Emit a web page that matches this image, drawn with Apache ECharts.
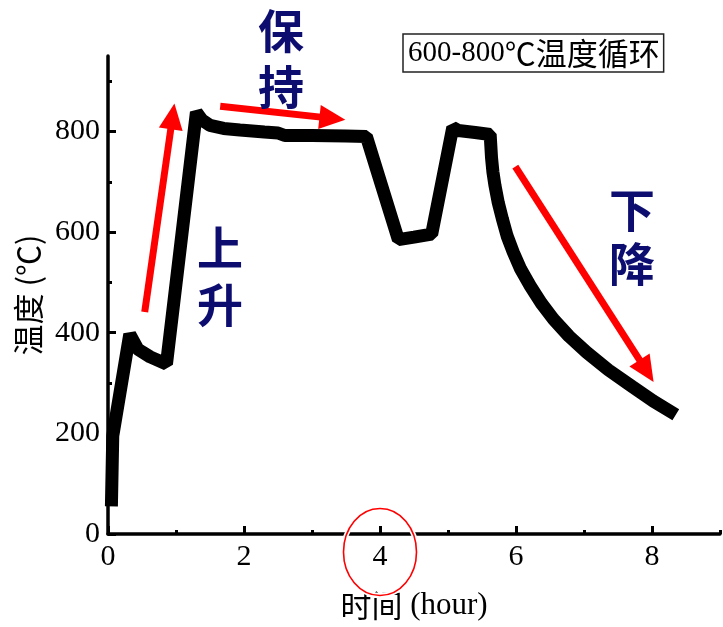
<!DOCTYPE html>
<html>
<head>
<meta charset="utf-8">
<script src="https://cdn.jsdelivr.net/npm/echarts@6/dist/echarts.min.js"></script>
<style>
  html, body { margin: 0; padding: 0; background: #fff; }
  #chart { width: 723px; height: 627px; }
</style>
</head>
<body>
<div id="chart"></div>
<script>
// Furnace temperature profile for one 600-800 °C cycle
const hours = [0.05, 0.07, 0.32, 0.44, 0.62, 0.86, 1.30, 1.38, 1.50, 1.70, 1.94, 2.30, 2.50, 2.60, 3.00, 3.50, 3.80,
               4.27, 4.50, 4.76, 5.07, 5.15, 5.40, 5.62, 5.64, 5.66, 5.69, 5.74, 5.80, 5.87, 5.96, 6.07, 6.21,
               6.37, 6.55, 6.78, 7.04, 7.36, 7.71, 8.02, 8.35];
const temps = [55, 195, 397, 367, 352, 338, 838, 823, 812, 806, 803, 799, 797, 792, 792, 791, 790,
               585, 590, 596, 808, 802, 798, 794, 748, 720, 693, 658, 626, 592, 560, 526, 493,
               459, 427, 393, 361, 326, 293, 264, 237];

const majorX = [0, 2, 4, 6, 8];
const minorX = [1, 3, 5, 7, 9];
const majorY = [0, 200, 400, 600, 800];
const minorY = [100, 300, 500, 700, 900];

// phase arrows: rise, hold, cool-down
const arrowFrom = [[0.54, 441], [1.65, 850], [5.99, 730]];
const arrowTo   = [[0.95, 830], [3.30, 826], [7.92, 324]];

const legendLabel = '600-800℃温度循环';
const serif = '"Liberation Serif", "Times New Roman", serif';
const cjk = '"Noto Sans CJK SC", sans-serif';
const navy = '#0d0d70';

const chart = echarts.init(document.getElementById('chart'), null, { renderer: 'canvas' });

const gridBox = { left: 108, right: 3, top: 56, bottom: 93 };
const axisLine = { show: true, lineStyle: { color: '#000', width: 3.5 } };

chart.setOption({
  animation: false,
  backgroundColor: '#fff',
  grid: [
    Object.assign({ containLabel: false }, gridBox),
    Object.assign({ containLabel: false }, gridBox)
  ],
  legend: {
    data: [legendLabel],
    left: 403, top: 34,
    icon: 'none',
    itemWidth: 0, itemHeight: 0,
    padding: [4, 4, 3, 0],
    borderColor: '#222', borderWidth: 1.5,
    selectedMode: false,
    formatter: () => '{n|600-800}{c|℃温度循环}',
    textStyle: {
      rich: {
        n: { fontFamily: serif, fontSize: 29, color: '#000', lineHeight: 34 },
        c: { fontFamily: cjk, fontSize: 31, color: '#000', lineHeight: 34 }
      }
    }
  },
  xAxis: [
    {
      type: 'value', gridIndex: 0, min: 0, max: 9, interval: 1,
      axisLine,
      axisTick: { show: true, inside: true, length: 8, customValues: majorX, lineStyle: { width: 3, color: '#000' } },
      axisLabel: { customValues: majorX, fontFamily: serif, fontSize: 30, color: '#000', margin: 8 },
      splitLine: { show: false },
      name: '{c|时间}{n| (hour)}', nameLocation: 'middle', nameGap: 56,
      nameTextStyle: {
        rich: {
          c: { fontFamily: cjk, fontSize: 31, color: '#000' },
          n: { fontFamily: serif, fontSize: 31, color: '#000' }
        }
      }
    },
    {
      type: 'value', gridIndex: 1, min: 0, max: 9, interval: 1,
      axisLine: { show: false },
      axisTick: { show: true, inside: true, length: 4, customValues: minorX, lineStyle: { width: 3, color: '#000' } },
      axisLabel: { show: false },
      splitLine: { show: false }
    }
  ],
  yAxis: [
    {
      type: 'value', gridIndex: 0, min: 0, max: 950, interval: 50,
      axisLine,
      axisTick: { show: true, inside: true, length: 8, customValues: majorY, lineStyle: { width: 3, color: '#000' } },
      axisLabel: { customValues: majorY, fontFamily: serif, fontSize: 30, color: '#000', margin: 8 },
      splitLine: { show: false },
      name: '温度 (℃)', nameLocation: 'middle', nameGap: 64,
      nameTextStyle: { fontFamily: cjk, fontSize: 31, color: '#000' }
    },
    {
      type: 'value', gridIndex: 1, min: 0, max: 950, interval: 50,
      axisLine: { show: false },
      axisTick: { show: true, inside: true, length: 4, customValues: minorY, lineStyle: { width: 3, color: '#000' } },
      axisLabel: { show: false },
      splitLine: { show: false }
    }
  ],
  series: [
    {
      name: legendLabel,
      type: 'line',
      xAxisIndex: 0, yAxisIndex: 0,
      data: hours.map((h, i) => [h, temps[i]]),
      showSymbol: false, symbol: 'none',
      lineStyle: { color: '#000', width: 13, cap: 'butt', join: 'bevel' },
      itemStyle: { color: '#000' },
      z: 3,
      markLine: {
        silent: true,
        symbol: ['none', 'triangle'],
        symbolSize: [24, 26],
        label: { show: false },
        lineStyle: { color: '#ff0000', width: 7, type: 'solid' },
        itemStyle: { color: '#ff0000' },
        data: arrowFrom.map((p, i) => [{ coord: p }, { coord: arrowTo[i] }])
      }
    }
  ],
  graphic: [
    { type: 'text', z: 100, x: 281, y: 3,
      style: { text: '保\n持', font: 'bold 46px ' + cjk, fill: navy, lineHeight: 56, align: 'center', verticalAlign: 'top' } },
    { type: 'text', z: 100, x: 220, y: 219,
      style: { text: '上\n升', font: 'bold 46px ' + cjk, fill: navy, lineHeight: 57, align: 'center', verticalAlign: 'top' } },
    { type: 'text', z: 100, x: 632, y: 183,
      style: { text: '下\n降', font: 'bold 46px ' + cjk, fill: navy, lineHeight: 54, align: 'center', verticalAlign: 'top' } },
    { type: 'ellipse', z: 100, shape: { cx: 380, cy: 552, rx: 36.5, ry: 43.5 },
      style: { fill: 'none', stroke: '#fff', lineWidth: 5 } },
    { type: 'ellipse', z: 101, shape: { cx: 380, cy: 552, rx: 36.5, ry: 43.5 },
      style: { fill: 'none', stroke: '#ff0000', lineWidth: 1.6 } }
  ]
});
</script>
</body>
</html>
